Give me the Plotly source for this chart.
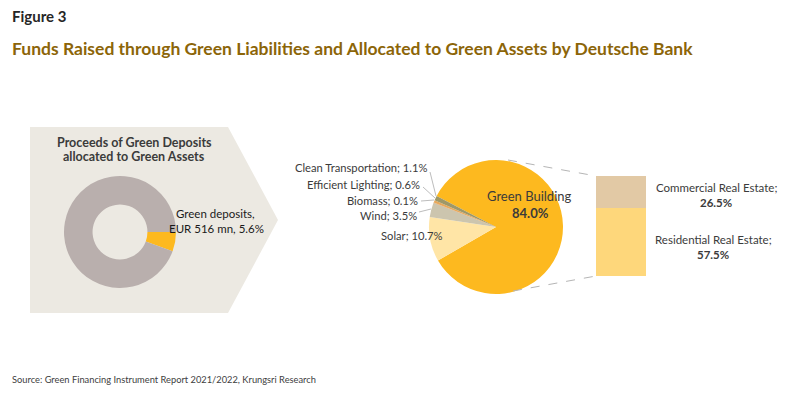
import plotly.graph_objects as go

W, H = 800, 399

# ---- data ----
donut_labels = ["Green deposits", "Other"]
donut_values = [5.6, 94.4]

pie_labels = ["Green Building", "Solar", "Wind", "Biomass", "Efficient Lighting", "Clean Transportation"]
pie_values = [84.0, 10.7, 3.5, 0.1, 0.6, 1.1]

bar_labels = ["Residential Real Estate", "Commercial Real Estate"]
bar_values = [57.5, 26.5]

FONT = "Lato"
DARK = "#3b3b3b"


def px(x):
    return x / W


def py(y):
    return 1 - y / H


fig = go.Figure()

# donut
fig.add_trace(go.Pie(
    labels=donut_labels, values=donut_values, hole=0.49, sort=False,
    direction="counterclockwise", rotation=90,
    marker=dict(colors=["#FDB91F", "#B9AFAD"], line=dict(width=0)),
    textinfo="none", hoverinfo="label+percent", showlegend=False,
    domain=dict(x=[px(64), px(176)], y=[py(288), py(176)]),
))

# main pie
fig.add_trace(go.Pie(
    labels=pie_labels, values=pie_values, sort=False,
    direction="clockwise", rotation=-62.4,
    marker=dict(colors=["#FDB91F", "#FFE5A6", "#CCC5AE", "#D98A45", "#E7A95C", "#9E9868"],
                line=dict(width=0)),
    textinfo="none", hoverinfo="label+percent", showlegend=False,
    domain=dict(x=[px(429), px(563)], y=[py(294), py(160)]),
))

# stacked bar
bar_colors = ["#FED77B", "#E2C9A5"]
for lab, val, col in zip(bar_labels, bar_values, bar_colors):
    fig.add_trace(go.Bar(
        x=[0], y=[val], name=lab, width=1, marker=dict(color=col, line=dict(width=0)),
        showlegend=False, xaxis="x", yaxis="y", hoverinfo="name+y",
    ))

fig.update_layout(
    width=W, height=H, margin=dict(l=0, r=0, t=0, b=0),
    paper_bgcolor="white", plot_bgcolor="rgba(0,0,0,0)",
    barmode="stack",
    xaxis=dict(domain=[px(596), px(646)], range=[-0.5, 0.5], visible=False, fixedrange=True),
    yaxis=dict(domain=[py(276), py(176)], range=[0, sum(bar_values)], visible=False, fixedrange=True),
    font=dict(family=FONT, color=DARK),
)

# pentagon background
pent = [(30, 127), (228, 127), (278, 220), (228, 313), (30, 313)]
path = "M " + " L ".join(f"{px(x):.5f},{py(y):.5f}" for x, y in pent) + " Z"
fig.add_shape(type="path", path=path, xref="paper", yref="paper",
              fillcolor="#ECE9E2", line=dict(width=0), layer="below")

# dashed connectors
for (x0, y0, x1, y1) in [(508, 160, 596, 176), (513, 291, 596, 276)]:
    fig.add_shape(type="line", xref="paper", yref="paper",
                  x0=px(x0), y0=py(y0), x1=px(x1), y1=py(y1),
                  line=dict(color="#B5B5B5", width=1, dash="dash"))

# leader lines
for (x0, y0, x1, y1) in [(430, 172, 436, 196), (423, 187, 435, 198),
                         (421, 201, 434, 200), (419, 212, 431, 209)]:
    fig.add_shape(type="line", xref="paper", yref="paper",
                  x0=px(x0), y0=py(y0), x1=px(x1), y1=py(y1),
                  line=dict(color="#BDBDBD", width=1))


def note(text, x, y, size, xanchor="left", bold=False, color=DARK, align="left"):
    if bold:
        text = f"<b>{text}</b>"
    fig.add_annotation(text=text, x=px(x), y=py(y), xref="paper", yref="paper",
                       xanchor=xanchor, yanchor="middle", showarrow=False, align=align,
                       font=dict(family=FONT, size=size, color=color))


note("Figure 3", 10, 16, 15, bold=True, color="#262626")
note("Funds Raised through Green Liabilities and Allocated to Green Assets by Deutsche Bank",
     10, 49, 17.5, bold=True, color="#8C6508")

note("Proceeds of Green Deposits", 134, 142, 12.5, xanchor="center", bold=True)
note("allocated to Green Assets", 134, 156, 12.5, xanchor="center", bold=True)
note("Green deposits,", 174, 213, 11.5, color="#1a1a1a")
note("EUR 516 mn, 5.6%", 167, 228, 11.5, color="#1a1a1a")

note("Clean Transportation; 1.1%", 429, 167, 11.2, xanchor="right")
note("Efficient Lighting; 0.6%", 422, 184, 11.2, xanchor="right")
note("Biomass; 0.1%", 420, 200, 11.2, xanchor="right")
note("Wind; 3.5%", 419, 215, 11.2, xanchor="right")
note("Solar; 10.7%", 445, 235, 11.2, xanchor="right")

note("Green Building", 529, 196, 13, xanchor="center")
note("84.0%", 530, 213, 13, xanchor="center", bold=True)

note("Commercial Real Estate;", 716, 187, 11.5, xanchor="center")
note("26.5%", 716, 202, 11.5, xanchor="center", bold=True)
note("Residential Real Estate;", 713, 239, 11.5, xanchor="center")
note("57.5%", 713, 254, 11.5, xanchor="center", bold=True)

note("Source: Green Financing Instrument Report 2021/2022, Krungsri Research", 10, 379, 9.3, color="#404040")

fig.write_html("out.html", config={"displayModeBar": False},
               post_script="document.body.style.margin='0px';")
